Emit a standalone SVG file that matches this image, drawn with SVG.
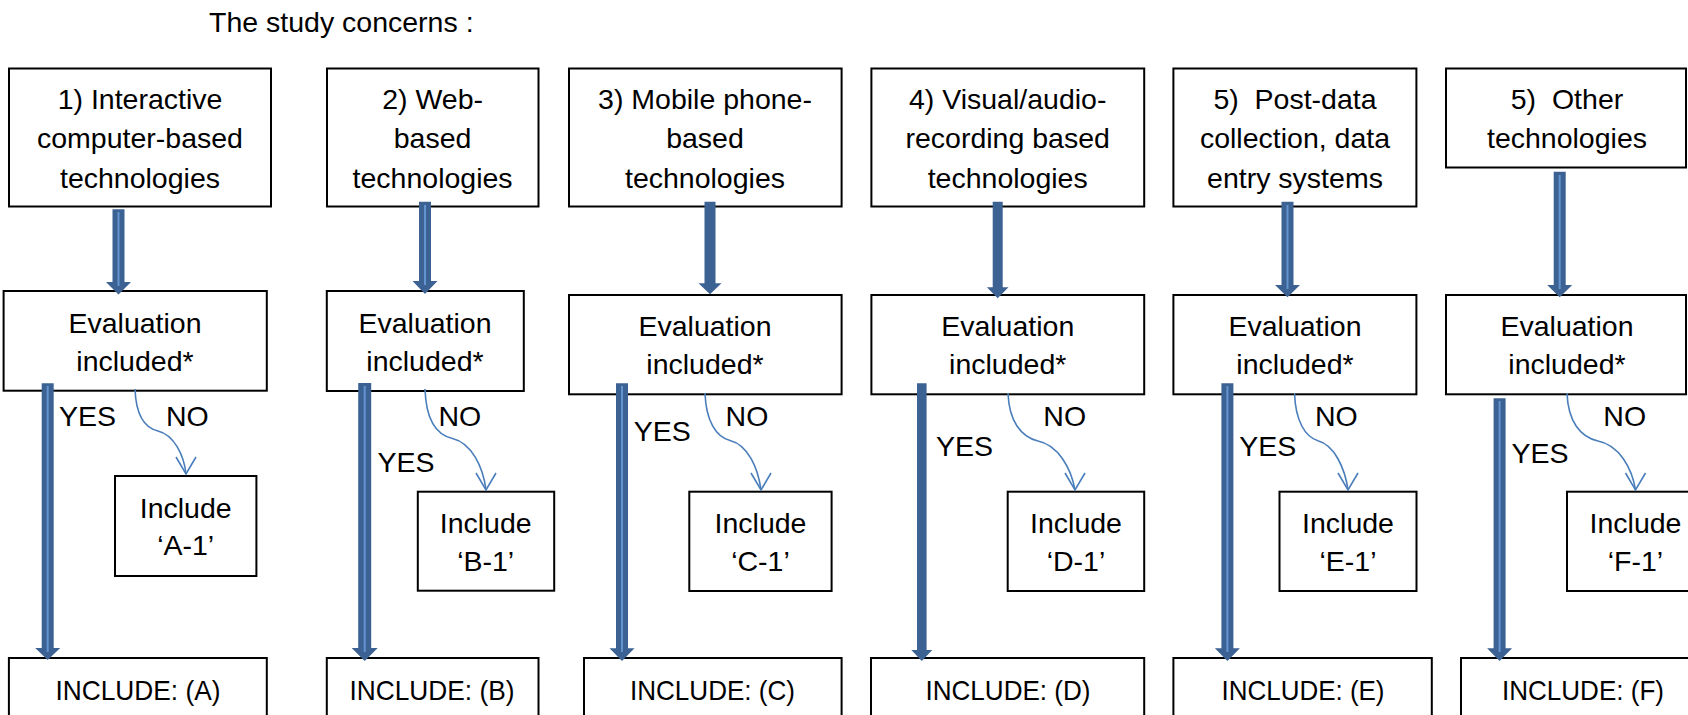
<svg xmlns="http://www.w3.org/2000/svg" width="1688" height="715" viewBox="0 0 1688 715">
<style>
  .box { fill: #ffffff; stroke: #000000; stroke-width: 2; }
  .t { font-family: "Liberation Sans", Arial, sans-serif; font-size: 28.5px; fill: #000000; text-anchor: middle; }
  .lbl { font-family: "Liberation Sans", Arial, sans-serif; font-size: 28.5px; fill: #000000; }
  .big { fill: #3C6294; }
  .stripe { stroke: #6394CF; stroke-width: 2; fill: none; }
  .thin { fill: none; stroke: #4A7EBB; stroke-width: 1.6; }
</style>
<rect width="1688" height="715" fill="#ffffff"/>
<text class="lbl" x="209" y="32.3">The study concerns :</text>

<g id="top1"><rect class="box" x="9" y="68.5" width="262" height="138"/>
<text class="t" x="140" y="109.3">1) Interactive</text><text class="t" x="140" y="148.3">computer-based</text><text class="t" x="140" y="187.5">technologies</text></g>
<g id="top2"><rect class="box" x="327" y="68.5" width="211.5" height="138"/>
<text class="t" x="432.6" y="109.3">2) Web-</text><text class="t" x="432.6" y="148.3">based</text><text class="t" x="432.6" y="187.5">technologies</text></g>
<g id="top3"><rect class="box" x="569" y="68.5" width="272.6" height="138"/>
<text class="t" x="705" y="109.3">3) Mobile phone-</text><text class="t" x="705" y="148.3">based</text><text class="t" x="705" y="187.5">technologies</text></g>
<g id="top4"><rect class="box" x="871.4" y="68.5" width="272.8" height="138"/>
<text class="t" x="1007.7" y="109.3">4) Visual/audio-</text><text class="t" x="1007.7" y="148.3">recording based</text><text class="t" x="1007.7" y="187.5">technologies</text></g>
<g id="top5"><rect class="box" x="1173.4" y="68.5" width="243" height="138"/>
<text class="t" x="1295" y="109.3" xml:space="preserve">5)  Post-data</text><text class="t" x="1295" y="148.3">collection, data</text><text class="t" x="1295" y="187.5">entry systems</text></g>
<g id="top6"><rect class="box" x="1446" y="68.5" width="240" height="99"/>
<text class="t" x="1567" y="109.3" xml:space="preserve">5)  Other</text><text class="t" x="1567" y="148.3">technologies</text></g>

<g id="eval1"><rect class="box" x="3.6" y="291" width="263.2" height="99.7"/>
<text class="t" x="135" y="333.3">Evaluation</text><text class="t" x="135" y="371">included*</text></g>
<g id="eval2"><rect class="box" x="326.8" y="291" width="197" height="100"/>
<text class="t" x="425" y="333.3">Evaluation</text><text class="t" x="425" y="371">included*</text></g>
<g id="eval3"><rect class="box" x="569" y="295" width="272.6" height="99.3"/>
<text class="t" x="705" y="336">Evaluation</text><text class="t" x="705" y="374">included*</text></g>
<g id="eval4"><rect class="box" x="871.4" y="295" width="272.8" height="99.3"/>
<text class="t" x="1007.7" y="336">Evaluation</text><text class="t" x="1007.7" y="374">included*</text></g>
<g id="eval5"><rect class="box" x="1173.4" y="295" width="243" height="99.3"/>
<text class="t" x="1295" y="336">Evaluation</text><text class="t" x="1295" y="374">included*</text></g>
<g id="eval6"><rect class="box" x="1446" y="295" width="240" height="99.3"/>
<text class="t" x="1567" y="336">Evaluation</text><text class="t" x="1567" y="374">included*</text></g>

<g id="sub1"><rect class="box" x="115" y="476" width="141.4" height="100"/>
<text class="t" x="185.7" y="517.7">Include</text><text class="t" x="185.7" y="555">‘A-1’</text></g>
<g id="sub2"><rect class="box" x="417.8" y="491.7" width="136.4" height="99"/>
<text class="t" x="485.7" y="532.7">Include</text><text class="t" x="485.7" y="570.7">‘B-1’</text></g>
<g id="sub3"><rect class="box" x="689.3" y="491.7" width="142.3" height="99.3"/>
<text class="t" x="760.5" y="532.7">Include</text><text class="t" x="760.5" y="570.7">‘C-1’</text></g>
<g id="sub4"><rect class="box" x="1007.7" y="491.7" width="136.5" height="99.3"/>
<text class="t" x="1076" y="532.7">Include</text><text class="t" x="1076" y="570.7">‘D-1’</text></g>
<g id="sub5"><rect class="box" x="1279.5" y="491.7" width="137" height="99.3"/>
<text class="t" x="1348" y="532.7">Include</text><text class="t" x="1348" y="570.7">‘E-1’</text></g>
<g id="sub6"><rect class="box" x="1567" y="491.7" width="137" height="99.3"/>
<text class="t" x="1635.5" y="532.7">Include</text><text class="t" x="1635.5" y="570.7">‘F-1’</text></g>

<g id="inc1"><rect class="box" x="8.9" y="658" width="257.9" height="80"/><text class="t" x="138" y="700" textLength="165" lengthAdjust="spacingAndGlyphs">INCLUDE: (A)</text></g>
<g id="inc2"><rect class="box" x="326.8" y="658" width="211.7" height="80"/><text class="t" x="432" y="700" textLength="165" lengthAdjust="spacingAndGlyphs">INCLUDE: (B)</text></g>
<g id="inc3"><rect class="box" x="584" y="658" width="257.6" height="80"/><text class="t" x="712.5" y="700" textLength="165" lengthAdjust="spacingAndGlyphs">INCLUDE: (C)</text></g>
<g id="inc4"><rect class="box" x="871" y="658" width="273.2" height="80"/><text class="t" x="1008" y="700" textLength="165" lengthAdjust="spacingAndGlyphs">INCLUDE: (D)</text></g>
<g id="inc5"><rect class="box" x="1173.4" y="658" width="258.4" height="80"/><text class="t" x="1303" y="700" textLength="163" lengthAdjust="spacingAndGlyphs">INCLUDE: (E)</text></g>
<g id="inc6"><rect class="box" x="1461" y="658" width="260" height="80"/><text class="t" x="1583" y="700" textLength="162" lengthAdjust="spacingAndGlyphs">INCLUDE: (F)</text></g>

<g id="connectors">
  <polygon class="big" points="112.5,209.3 124.5,209.3 124.5,282 131,282 118.5,294.5 106,282 112.5,282"/>
  <line class="stripe" x1="118.5" y1="212" x2="118.5" y2="286"/>
  <polygon class="big" points="419,201.7 431,201.7 431,281 437.5,281 425,294 412.5,281 419,281"/>
  <line class="stripe" x1="425" y1="205" x2="425" y2="285"/>
  <polygon class="big" points="704.5,201.7 715.5,201.7 715.5,283.3 721.5,283.3 710,294.3 698.5,283.3 704.5,283.3"/>
  <polygon class="big" points="992.7,201.7 1002.7,201.7 1002.7,287.3 1008.5,287.3 997.7,298.3 986.9,287.3 992.7,287.3"/>
  <polygon class="big" points="1281.5,201.7 1293.5,201.7 1293.5,285 1300,285 1287.5,297.3 1275,285 1281.5,285"/>
  <line class="stripe" x1="1287.5" y1="205" x2="1287.5" y2="289"/>
  <polygon class="big" points="1553.7,171.7 1565.7,171.7 1565.7,285 1572.2,285 1559.7,297.3 1547.2,285 1553.7,285"/>
  <line class="stripe" x1="1559.7" y1="175" x2="1559.7" y2="289"/>

  <polygon class="big" points="41.7,383.3 53.7,383.3 53.7,648 60.2,648 47.7,660 35.2,648 41.7,648"/>
  <line class="stripe" x1="47.7" y1="386" x2="47.7" y2="652"/>
  <polygon class="big" points="358.2,383 371.2,383 371.2,648 377.7,648 364.7,661 351.7,648 358.2,648"/>
  <line class="stripe" x1="364.7" y1="386" x2="364.7" y2="652"/>
  <polygon class="big" points="616,383.3 628,383.3 628,648.3 634.5,648.3 622,661 609.5,648.3 616,648.3"/>
  <line class="stripe" x1="622" y1="386" x2="622" y2="652"/>
  <polygon class="big" points="917,383.3 926.6,383.3 926.6,650 932.3,650 921.8,661 911.3,650 917,650"/>
  <polygon class="big" points="1221.4,383.3 1233.4,383.3 1233.4,648.3 1239.9,648.3 1227.4,661 1214.9,648.3 1221.4,648.3"/>
  <line class="stripe" x1="1227.4" y1="386" x2="1227.4" y2="652"/>
  <polygon class="big" points="1493.6,398.3 1505.6,398.3 1505.6,648.3 1512.1,648.3 1499.6,661 1487.1,648.3 1493.6,648.3"/>
  <line class="stripe" x1="1499.6" y1="401" x2="1499.6" y2="652"/>

  <path class="thin" d="M135,389 C136,416 145,428 158,431 C174,435 184,455 186,474"/>
  <path class="thin" d="M176,457 L186,474 L196,457"/>
  <path class="thin" d="M425,389 C426,420 437,435 452.5,438.5 C471,443 483,466 486,490"/>
  <path class="thin" d="M476,473 L486,490 L496,473"/>
  <path class="thin" d="M705,393 C706,421 716,437 730,440.5 C748,445 758,468 761,490"/>
  <path class="thin" d="M751,473 L761,490 L771,473"/>
  <path class="thin" d="M1008,393 C1009,421 1021,437 1038,441 C1058,445 1071,468 1075,490"/>
  <path class="thin" d="M1065,473 L1075,490 L1085,473"/>
  <path class="thin" d="M1294.5,393 C1295.5,421 1305,437 1318.5,441 C1334,445 1345,468 1348,490"/>
  <path class="thin" d="M1338,473 L1348,490 L1358,473"/>
  <path class="thin" d="M1567,393 C1568,421 1580,437 1598,441 C1619,445 1632,468 1635.5,490"/>
  <path class="thin" d="M1625.5,473 L1635.5,490 L1645.5,473"/>

  <text class="lbl" x="59" y="425.7">YES</text>
  <text class="lbl" x="377.5" y="471.7">YES</text>
  <text class="lbl" x="633.8" y="440.7">YES</text>
  <text class="lbl" x="936" y="456">YES</text>
  <text class="lbl" x="1239.3" y="456">YES</text>
  <text class="lbl" x="1511.5" y="462.7">YES</text>
  <text class="lbl" x="166" y="425.7">NO</text>
  <text class="lbl" x="438.5" y="425.7">NO</text>
  <text class="lbl" x="725.6" y="425.7">NO</text>
  <text class="lbl" x="1043.3" y="425.7">NO</text>
  <text class="lbl" x="1315" y="425.7">NO</text>
  <text class="lbl" x="1603.3" y="425.7">NO</text>
</g>
</svg>
